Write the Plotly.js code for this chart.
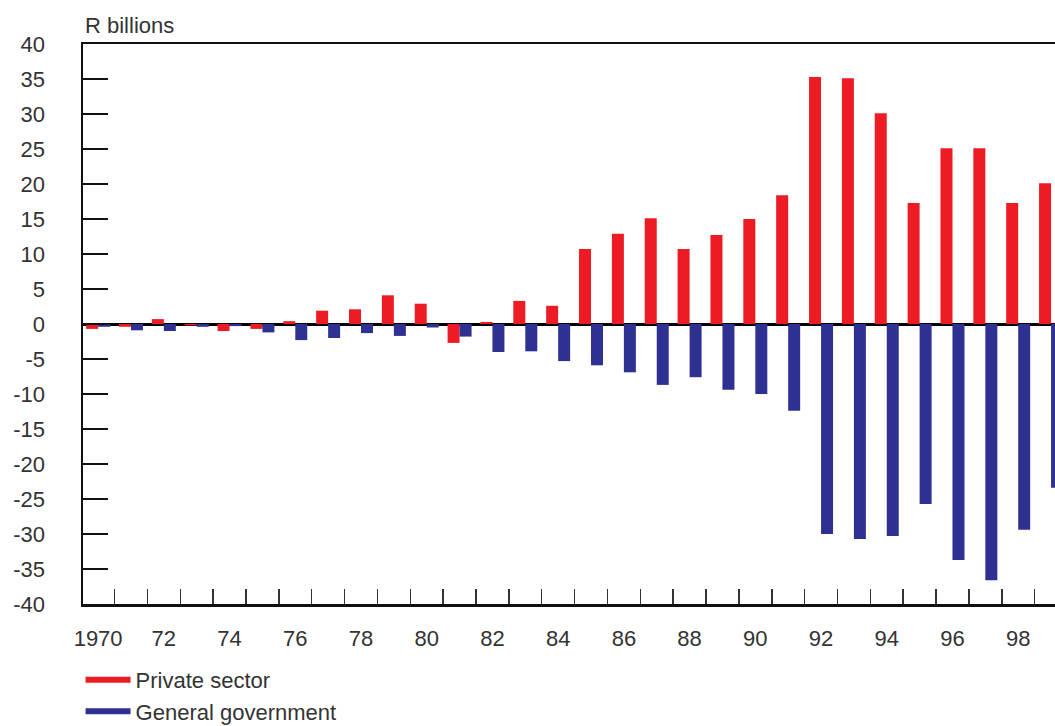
<!DOCTYPE html>
<html>
<head>
<meta charset="utf-8">
<script src="https://cdn.plot.ly/plotly-3.0.1.min.js"></script>
<style>
  html, body { margin: 0; padding: 0; background: #fff; }
  #chart { width: 1055px; height: 726px; }
</style>
</head>
<body>
<div id="chart"></div>
<script>
const years = [1970,1971,1972,1973,1974,1975,1976,1977,1978,1979,
               1980,1981,1982,1983,1984,1985,1986,1987,1988,1989,
               1990,1991,1992,1993,1994,1995,1996,1997,1998,1999];
const privateSector = [-0.7,-0.4,0.7,-0.2,-1.0,-0.7,0.4,1.9,2.1,4.1,
                       2.9,-2.7,0.3,3.3,2.6,10.7,12.9,15.1,10.7,12.7,
                       15.0,18.4,35.3,35.1,30.1,17.3,25.1,25.1,17.3,20.1];
const generalGovernment = [-0.4,-0.9,-1.0,-0.4,-0.3,-1.2,-2.3,-2.0,-1.3,-1.7,
                           -0.5,-1.8,-4.0,-3.9,-5.3,-5.9,-6.9,-8.7,-7.6,-9.4,
                           -10.0,-12.4,-30.0,-30.7,-30.3,-25.7,-33.7,-36.6,-29.4,-23.4];
const xLabelYears = [1970,1972,1974,1976,1978,1980,1982,1984,1986,1988,1990,1992,1994,1996,1998];
const xLabels = ['1970','72','74','76','78','80','82','84','86','88','90','92','94','96','98'];
const yTickVals = [-40,-35,-30,-25,-20,-15,-10,-5,0,5,10,15,20,25,30,35,40];
const yTickLabels = ['-40','-35','-30','-25','-20','-15','-10','-5','0','5','10','15','20','25','30','35','40'];
const seriesNames = ['Private sector', 'General government'];
const RED = '#ED1C24', BLUE = '#2E3192';
const FONT = 'Liberation Sans, Arial, sans-serif';
const TXT = '#333333';

const traces = [
  {type:'bar', x: years, y: privateSector, name: seriesNames[0], marker:{color: RED}, showlegend:false, hoverinfo:'x+y'},
  {type:'bar', x: years, y: generalGovernment, name: seriesNames[1], marker:{color: BLUE}, showlegend:false, hoverinfo:'x+y'},
  {type:'scatter', mode:'lines', x:[null], y:[null], name: seriesNames[0], line:{color: RED, width:6}},
  {type:'scatter', mode:'lines', x:[null], y:[null], name: seriesNames[1], line:{color: BLUE, width:6}}
];

const layout = {
  width: 1055, height: 726,
  margin: {l: 83, r: 0, t: 44, b: 122, pad: 0, autoexpand: false},
  paper_bgcolor: '#fff', plot_bgcolor: '#fff',
  font: {family: FONT, size: 22, color: TXT},
  barmode: 'group', bargap: 0.27, bargroupgap: 0,
  showlegend: true,
  legend: {x: -0.0025, xanchor: 'left', y: -0.098, yanchor: 'top', orientation: 'v',
           font: {family: FONT, size: 22, color: TXT}, itemwidth: 45, tracegroupgap: 0,
           bgcolor: 'rgba(0,0,0,0)'},
  xaxis: {
    type: 'linear', range: [1969.54, 1999.12], fixedrange: true,
    tickmode: 'array', tickvals: xLabelYears, ticktext: xLabels, ticks: '',
    ticklabelstandoff: 13,
    minor: {tick0: 1970.5, dtick: 1, ticks: 'inside', ticklen: 15, tickwidth: 1.5, tickcolor: '#333'},
    showgrid: false, zeroline: false,
    showline: true, linecolor: '#111', linewidth: 2.5, mirror: true,
    tickfont: {family: FONT, size: 22, color: TXT}
  },
  yaxis: {
    range: [-40, 40], fixedrange: true,
    tickmode: 'array', tickvals: yTickVals, ticktext: yTickLabels,
    ticks: 'inside', ticklen: 25, tickwidth: 2.5, tickcolor: '#111',
    ticklabelstandoff: 31,
    showgrid: false,
    zeroline: true, zerolinecolor: '#000', zerolinewidth: 3,
    showline: true, linecolor: '#111', linewidth: 2.5,
    tickfont: {family: FONT, size: 22, color: TXT}
  },
  annotations: [
    {text: 'R billions', xref: 'paper', yref: 'paper', x: 0, y: 1, xanchor: 'left', yanchor: 'bottom',
     xshift: 0, yshift: 4, showarrow: false, font: {family: FONT, size: 22, color: TXT}}
  ]
};

Plotly.newPlot('chart', traces, layout, {displayModeBar: false, staticPlot: true});
</script>
</body>
</html>
